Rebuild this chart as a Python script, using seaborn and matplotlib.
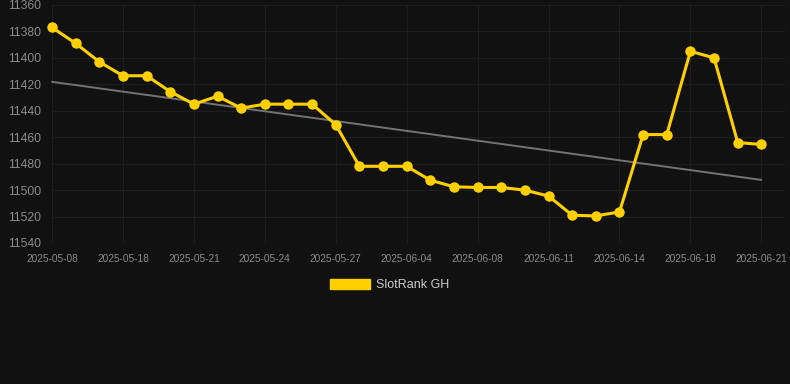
import numpy as np
import pandas as pd
import matplotlib
matplotlib.use("Agg")
import matplotlib.pyplot as plt
import seaborn as sns
from matplotlib.patches import Patch

# data
dates = ["2025-05-08", "2025-05-11", "2025-05-15", "2025-05-18", "2025-05-19", "2025-05-20",
         "2025-05-21", "2025-05-22", "2025-05-23", "2025-05-24", "2025-05-25", "2025-05-26",
         "2025-05-27", "2025-05-29", "2025-06-01", "2025-06-04", "2025-06-05", "2025-06-07",
         "2025-06-08", "2025-06-09", "2025-06-10", "2025-06-11", "2025-06-12", "2025-06-13",
         "2025-06-14", "2025-06-15", "2025-06-17", "2025-06-18", "2025-06-19", "2025-06-20",
         "2025-06-21"]
rank = [11377, 11389, 11403, 11413.5, 11413.5, 11425.5, 11435, 11429, 11438, 11435, 11435, 11435,
        11450.5, 11482, 11482, 11482, 11492.5, 11497.5, 11498, 11498, 11500, 11504.5, 11519,
        11519.5, 11516.5, 11458, 11458, 11395, 11400, 11464, 11465.5]
series_name = "SlotRank GH"

df = pd.DataFrame({"pos": np.arange(len(dates)), "date": dates, "rank": rank})

# linear trend over the series
slope, intercept = np.polyfit(df["pos"], df["rank"], 1)
df["trend"] = intercept + slope * df["pos"]

bg = "#111111"
gold = "#FFD000"
sns.set_theme(style="dark")
plt.rcParams["font.family"] = ["Liberation Sans", "DejaVu Sans"]

fig = plt.figure(figsize=(7.9, 3.84), dpi=100, facecolor=bg)
ax = fig.add_axes([52 / 790, 1 - 243 / 384, (785 - 52) / 790, (243 - 5) / 384])
ax.set_facecolor(bg)

sns.lineplot(data=df, x="pos", y="trend", ax=ax, color="#737373", linewidth=1.4, zorder=2)
sns.lineplot(data=df, x="pos", y="rank", ax=ax, color=gold, linewidth=2.2, marker="o",
             markersize=7.5, markeredgewidth=0, zorder=3)
for ln in ax.lines:
    ln.set_clip_on(False)

ax.set_ylim(11540, 11360)
ax.set_yticks(np.arange(11360, 11541, 20))
ax.set_xlim(0, 31.0)
tick_pos = df["pos"][::3]
ax.set_xticks(tick_pos)
ax.set_xticklabels(df["date"][::3])

ax.grid(True, color="#1e1e1e", linewidth=0.8)
ax.set_axisbelow(True)
for s in ax.spines.values():
    s.set_visible(False)
ax.tick_params(axis="y", length=0, pad=8, labelsize=8.7, labelcolor="#8a8a8a")
ax.tick_params(axis="x", length=0, pad=8, labelsize=7.3, labelcolor="#8a8a8a")
ax.set_xlabel("")
ax.set_ylabel("")

fig.legend(handles=[Patch(facecolor=gold, edgecolor=gold, label=series_name)],
           loc="center", bbox_to_anchor=(390 / 790, 1 - 285 / 384), frameon=False,
           handlelength=3.2, handleheight=0.9, handletextpad=0.5, fontsize=9,
           labelcolor="#cccccc")

fig.savefig("out.png", dpi=100, facecolor=bg)
